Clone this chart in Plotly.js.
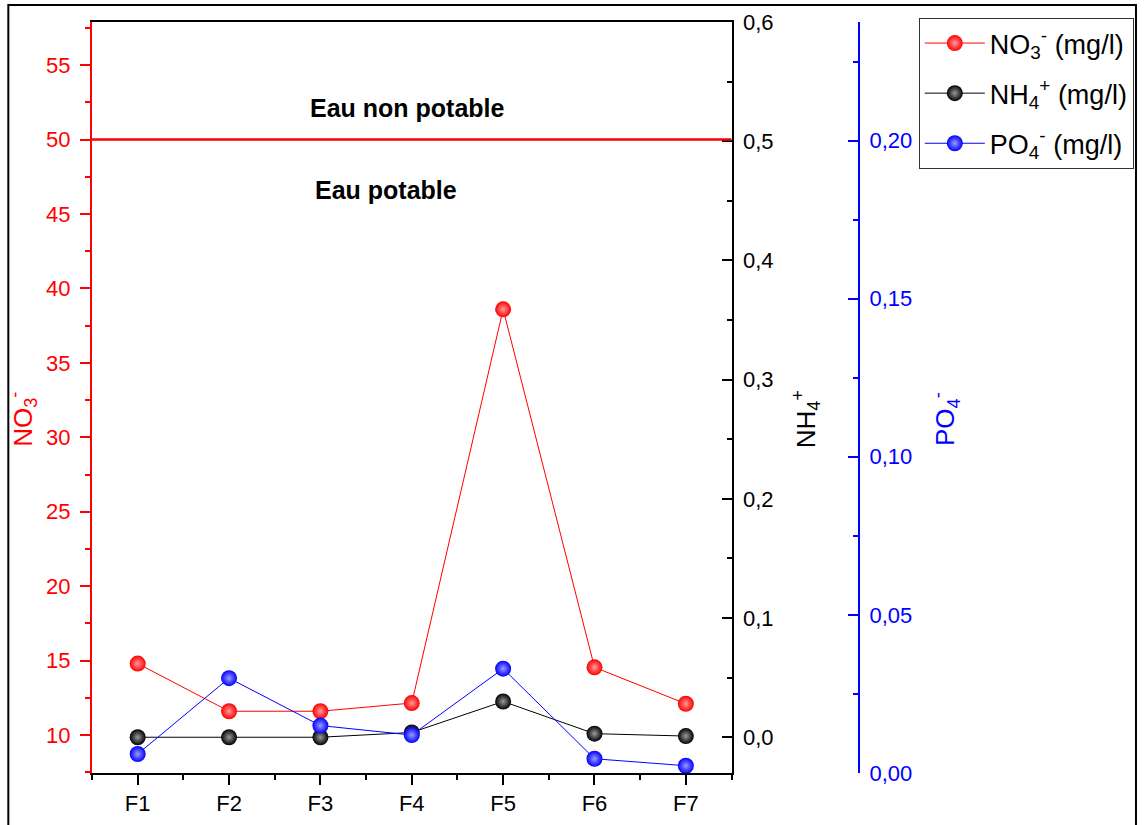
<!DOCTYPE html>
<html>
<head>
<meta charset="utf-8">
<script src="https://cdn.plot.ly/plotly-3.0.1.min.js"></script>
<style>html,body{margin:0;padding:0;background:#fff;}#chart{width:1144px;height:825px;}</style>
</head>
<body>
<div id="chart"></div>
<script>
// ---- data ----
const categories = ["F1", "F2", "F3", "F4", "F5", "F6", "F7"];
const no3 = [14.8, 11.6, 11.6, 12.15, 38.6, 14.55, 12.1];
const nh4 = [0.0, 0.0, 0.0, 0.004, 0.030, 0.003, 0.001];
const po4 = [0.006, 0.030, 0.015, 0.012, 0.033, 0.0045, 0.0023];
const seriesNames = ["NO<sub>3</sub><sup>-</sup> (mg/l)", "NH<sub>4</sub><sup>+</sup> (mg/l)", "PO<sub>4</sub><sup>-</sup> (mg/l)"];
const axisTitles = ["NO<sub>3</sub><sup>-</sup>", "NH<sub>4</sub><sup>+</sup>", "PO<sub>4</sub><sup>-</sup>"];
const limitNO3 = 50;
const labelAbove = "Eau non potable";
const labelBelow = "Eau potable";

const idx = categories.map((_, i) => i);
const FONT = "Liberation Sans, Arial, sans-serif";
const RED = "#ff0000", BLUE = "#0000ff", BLACK = "#000000";
const PAD = "&nbsp;&nbsp;&nbsp;&nbsp;&nbsp;&nbsp;";

function trace(y, name, color, center, yaxis) {
  return {
    x: idx, y: y, name: name, yaxis: yaxis, type: "scatter", mode: "lines+markers",
    line: {color: color, width: 1},
    marker: {size: 16, color: color, line: {width: 0},
             gradient: {type: "radial", color: center}},
    legendgroup: name
  };
}

const data = [
  trace(no3, seriesNames[0], RED, "#ff9a9a", "y"),
  trace(nh4, seriesNames[1], BLACK, "#9a9a9a", "y2"),
  trace(po4, seriesNames[2], BLUE, "#9a9aff", "y3")
];

const L = 92, R = 10, T = 22, B = 52, W = 1144, H = 825;
const pw = W - L - R, ph = H - T - B;
const xdom = (734 - L) / pw;

function yAxisBase(color) {
  return {
    showline: true, linecolor: color, linewidth: 2, showgrid: false, zeroline: false,
    ticks: "outside", ticklen: 10, tickwidth: 2, tickcolor: color,
    ticklabelstandoff: 5,
    tickfont: {size: 22, color: color, family: FONT}
  };
}

const layout = {
  width: W, height: H,
  margin: {l: L, r: R, t: T, b: B, pad: 0},
  paper_bgcolor: "#ffffff", plot_bgcolor: "#ffffff",
  separators: ", ",
  font: {family: FONT, color: BLACK},
  showlegend: true,
  xaxis: {
    domain: [0, xdom], range: [-0.5, categories.length - 0.5],
    tickmode: "array", tickvals: idx, ticktext: categories,
    showline: true, linecolor: BLACK, linewidth: 2, mirror: true,
    showgrid: false, zeroline: false,
    ticks: "outside", ticklen: 10, tickwidth: 2, tickcolor: BLACK,
    tickfont: {size: 22, color: BLACK, family: FONT},
    minor: {tickmode: "linear", tick0: -0.5, dtick: 1, ticks: "outside", ticklen: 5, tickwidth: 2, tickcolor: BLACK, showgrid: false}
  },
  yaxis: Object.assign(yAxisBase(RED), {
    range: [7.45, 57.9], tick0: 0, dtick: 5,
    minor: {dtick: 2.5, ticks: "outside", ticklen: 5, tickwidth: 2, tickcolor: RED, showgrid: false},
    title: {text: axisTitles[0] + PAD, font: {size: 26, color: RED, family: FONT}, standoff: 6}
  }),
  yaxis2: Object.assign(yAxisBase(BLACK), {
    overlaying: "y", side: "right", anchor: "x",
    range: [-0.03, 0.6], tick0: 0, dtick: 0.1, tickformat: ".1f",
    ticks: "inside",
    minor: {dtick: 0.05, ticks: "inside", ticklen: 5, tickwidth: 2, tickcolor: BLACK, showgrid: false},
    title: {text: axisTitles[1] + PAD, font: {size: 26, color: BLACK, family: FONT}, standoff: 24}
  }),
  yaxis3: Object.assign(yAxisBase(BLUE), {
    overlaying: "y", side: "right", anchor: "free", position: (862 - L) / pw,
    range: [0, 0.2375], tick0: 0, dtick: 0.05, tickformat: ".2f",
    ticks: "inside",
    minor: {dtick: 0.025, ticks: "inside", ticklen: 5, tickwidth: 2, tickcolor: BLUE, showgrid: false},
    title: {text: axisTitles[2] + PAD, font: {size: 26, color: BLUE, family: FONT}, standoff: 24}
  }),
  legend: {
    x: (922 - L) / pw, y: (H - B - 18) / ph, xanchor: "left", yanchor: "top",
    bgcolor: "#ffffff", bordercolor: "#333333", borderwidth: 1,
    font: {size: 27, color: BLACK, family: FONT},
    itemwidth: 60, traceorder: "grouped", tracegroupgap: 12
  },
  shapes: [
    {type: "line", xref: "x domain", yref: "y", x0: 0, x1: 1, y0: limitNO3, y1: limitNO3,
     line: {color: RED, width: 2.5}},
    {type: "rect", xref: "paper", yref: "paper",
     x0: (8 - L) / pw, x1: (1140 - L) / pw, y0: -0.2, y1: (H - B - 5) / ph,
     line: {color: BLACK, width: 2}, fillcolor: "rgba(0,0,0,0)", layer: "above"}
  ],
  annotations: [
    {text: "<b>" + labelAbove + "</b>", xref: "x domain", yref: "y", x: 0.494, y: 52.1,
     showarrow: false, xanchor: "center", yanchor: "middle", font: {size: 25, color: BLACK, family: FONT}},
    {text: "<b>" + labelBelow + "</b>", xref: "x domain", yref: "y", x: 0.459, y: 46.6,
     showarrow: false, xanchor: "center", yanchor: "middle", font: {size: 25, color: BLACK, family: FONT}}
  ]
};

Plotly.newPlot("chart", data, layout, {displayModeBar: false, staticPlot: true});
</script>
</body>
</html>
